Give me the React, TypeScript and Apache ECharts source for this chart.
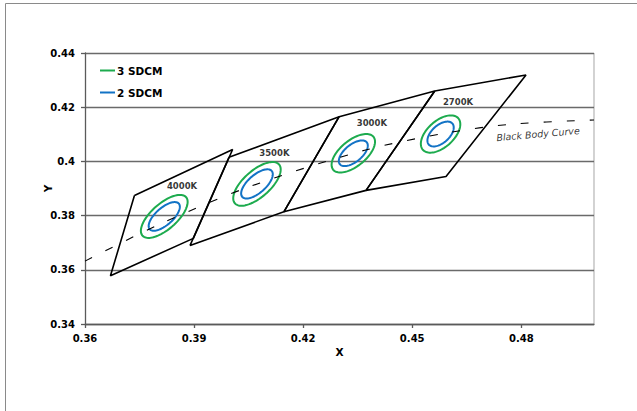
import { useEffect, useRef } from "react";
import * as echarts from "echarts";

// ANSI quadrangle corners (TL, TR, BR, BL, close)
const quad4000K = [[0.3736, 0.3874], [0.4006, 0.4044], [0.3898, 0.3716], [0.3670, 0.3578], [0.3736, 0.3874]];
const quad3500K = [[0.3996, 0.4015], [0.4299, 0.4165], [0.4147, 0.3814], [0.3889, 0.3690], [0.3996, 0.4015]];
const quad3000K = [[0.4299, 0.4165], [0.4562, 0.4260], [0.4373, 0.3893], [0.4147, 0.3814], [0.4299, 0.4165]];
const quad2700K = [[0.4562, 0.4260], [0.4813, 0.4319], [0.4593, 0.3944], [0.4373, 0.3893], [0.4562, 0.4260]];

// MacAdam ellipse parameters (1-step)
const ellipseCx = [0.3818, 0.4073, 0.4338, 0.4578];
const ellipseCy = [0.3797, 0.3917, 0.4030, 0.4101];
const ellipseA = [0.00313, 0.00317, 0.00278, 0.00258];
const ellipseB = [0.00134, 0.00139, 0.00136, 0.00137];
const ellipseTheta = [53.72, 54.0, 53.13, 57.28];

// CCT labels
const cctNames = ["4000K", "3500K", "3000K", "2700K"];
const cctLabelX = [0.3867, 0.4121, 0.4389, 0.4626];
const cctLabelY = [0.3911, 0.4031, 0.4142, 0.4219];

// Black body curve
const bbX = [0.3600, 0.3805, 0.4053, 0.4369, 0.4599, 0.4770, 0.5000];
const bbY = [0.3632, 0.3768, 0.3907, 0.4041, 0.4106, 0.4137, 0.4153];
const bbLabel = { text: "Black Body Curve", x: 0.4846, y: 0.4101 };

const xTicks = { min: 0.36, max: 0.5, interval: 0.03 };
const yTicks = { min: 0.34, max: 0.44, interval: 0.02 };

const GREEN = "#1dab4e";
const BLUE = "#1273c5";
const FONT = "DejaVu Sans";

function ellipseSeries(name: string, steps: number, color: string) {
  return {
    name,
    type: "custom",
    silent: true,
    itemStyle: { color },
    data: ellipseCx.map((cx, i) => [cx, ellipseCy[i], ellipseA[i] * steps, ellipseB[i] * steps, ellipseTheta[i]]),
    encode: { x: 0, y: 1 },
    renderItem: (params: any, api: any) => {
      const cx = api.value(0);
      const cy = api.value(1);
      const a = api.value(2);
      const b = api.value(3);
      const th = (api.value(4) * Math.PI) / 180;
      const pts: number[][] = [];
      const n = 90;
      for (let k = 0; k < n; k++) {
        const t = (k / n) * Math.PI * 2;
        const ex = a * Math.cos(t);
        const ey = b * Math.sin(t);
        const dx = ex * Math.cos(th) - ey * Math.sin(th);
        const dy = ex * Math.sin(th) + ey * Math.cos(th);
        pts.push(api.coord([cx + dx, cy + dy]));
      }
      return {
        type: "polygon",
        shape: { points: pts },
        style: { fill: "none", stroke: color, lineWidth: 2 },
      };
    },
  };
}

function quadSeries(name: string, data: number[][]) {
  return {
    name,
    type: "line",
    data,
    symbol: "none",
    silent: true,
    lineStyle: { color: "#000", width: 1.6 },
    z: 3,
  };
}

export default function App() {
  const ref = useRef<HTMLDivElement>(null);
  useEffect(() => {
    const chart = echarts.init(ref.current!, null, { renderer: "svg" });
    chart.setOption({
      animation: false,
      grid: { left: 85, right: 43, top: 53, bottom: 87 },
      legend: {
        orient: "vertical",
        left: 100,
        top: 65,
        itemWidth: 15,
        itemHeight: 2,
        itemGap: 11,
        icon: "rect",
        padding: 0,
        data: ["3 SDCM", "2 SDCM"],
        textStyle: { fontFamily: FONT, fontSize: 10.5, fontWeight: "bold", color: "#000", padding: [0, 0, 0, -3] },
        selectedMode: false,
      },
      xAxis: {
        type: "value",
        min: xTicks.min,
        max: xTicks.max,
        interval: xTicks.interval,
        name: "X",
        nameLocation: "middle",
        nameGap: 22,
        nameMoveOverlap: false,
        nameTextStyle: { fontFamily: FONT, fontSize: 10.5, fontWeight: "bold", color: "#000" },
        axisLine: { show: true, lineStyle: { color: "#5a5a5a", width: 1.3 } },
        axisTick: { show: true, length: 4, lineStyle: { color: "#5a5a5a", width: 1.3 } },
        axisLabel: {
          showMaxLabel: false,
          margin: 9,
          fontFamily: FONT,
          fontSize: 10,
          fontWeight: "bold",
          color: "#000",
        },
        splitLine: { show: false },
      },
      yAxis: {
        type: "value",
        min: yTicks.min,
        max: yTicks.max,
        interval: yTicks.interval,
        name: "Y",
        nameLocation: "middle",
        nameGap: 32,
        nameMoveOverlap: false,
        nameRotate: 90,
        nameTextStyle: { fontFamily: FONT, fontSize: 10.5, fontWeight: "bold", color: "#000" },
        axisLine: { show: true, lineStyle: { color: "#5a5a5a", width: 1.3 } },
        axisTick: { show: true, length: 4, lineStyle: { color: "#5a5a5a", width: 1.3 } },
        axisLabel: {
          margin: 10,
          fontFamily: FONT,
          fontSize: 10,
          fontWeight: "bold",
          color: "#000",
        },
        splitLine: { show: true, lineStyle: { color: "#6a6a6a", width: 1.3 } },
      },
      graphic: [
        {
          type: "rect",
          shape: { x: 5.5, y: 3.5, width: 800, height: 600 },
          style: { fill: "none", stroke: "#8a8a8a", lineWidth: 1 },
          silent: true,
        },
        {
          type: "line",
          shape: { x1: 594, y1: 53, x2: 594, y2: 324 },
          style: { stroke: "#b5b5b5", lineWidth: 1.2 },
          silent: true,
        },
      ],
      series: [
        {
          name: "Black Body Curve",
          type: "line",
          data: bbX.map((x, i) => [x, bbY[i]]),
          symbol: "none",
          smooth: 0.3,
          silent: true,
          lineStyle: { color: "#000", width: 1.1, type: [8, 15] },
          z: 2,
        },
        quadSeries("Q4000K", quad4000K),
        quadSeries("Q3500K", quad3500K),
        quadSeries("Q3000K", quad3000K),
        quadSeries("Q2700K", quad2700K),
        ellipseSeries("3 SDCM", 3, GREEN),
        ellipseSeries("2 SDCM", 2, BLUE),
        {
          name: "labels",
          type: "scatter",
          symbolSize: 0,
          silent: true,
          data: cctNames.map((n, i) => ({ value: [cctLabelX[i], cctLabelY[i]], name: n })),
          label: {
            show: true,
            position: "inside",
            formatter: (p: any) => p.name,
            fontFamily: FONT,
            fontSize: 8.5,
            fontWeight: "bold",
            color: "#000",
          },
          z: 5,
        },
        {
          name: "bbLabel",
          type: "scatter",
          symbolSize: 0,
          silent: true,
          data: [{ value: [bbLabel.x, bbLabel.y], name: bbLabel.text }],
          label: {
            show: true,
            position: "inside",
            rotate: 5,
            formatter: (p: any) => p.name,
            fontFamily: FONT,
            fontSize: 9.5,
            fontStyle: "italic",
            fontWeight: 500,
            color: "#000",
            textBorderWidth: 0,
          },
          z: 5,
        },
      ],
    });
    return () => chart.dispose();
  }, []);
  return (
    <div
      ref={ref}
      style={{ position: "fixed", left: 0, top: 0, width: 637, height: 411, background: "#fff" }}
    />
  );
}
